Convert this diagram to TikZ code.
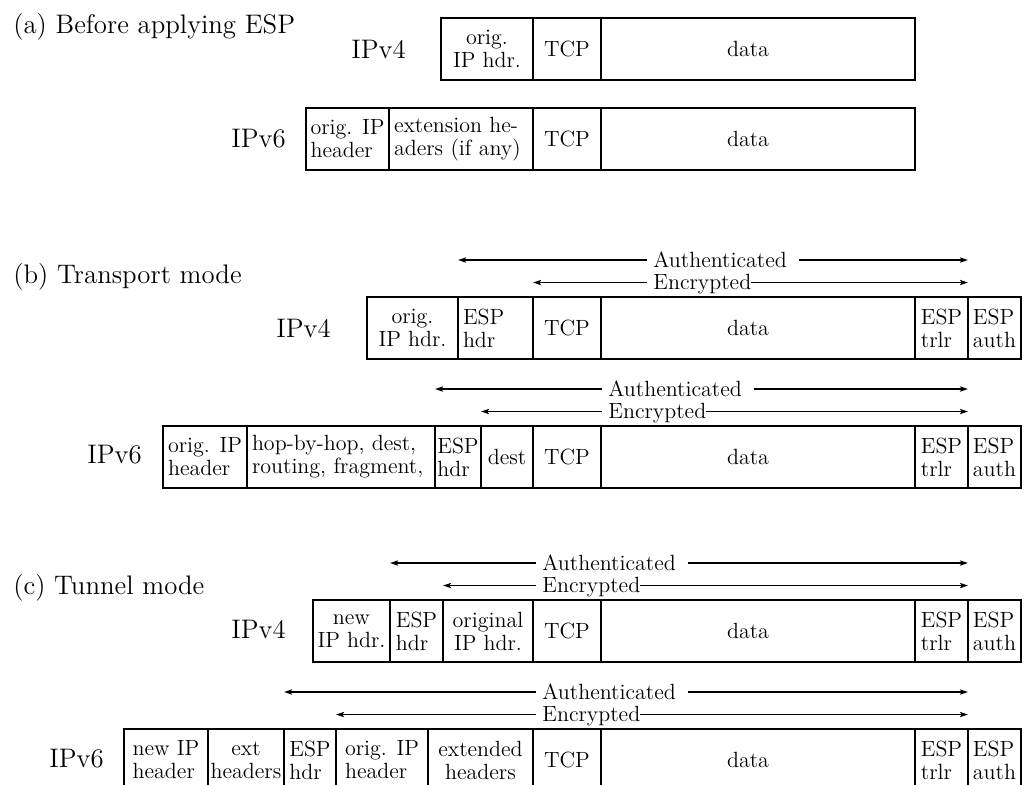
\documentclass[tikz,border=0pt]{standalone}
\usetikzlibrary{arrows.meta}

\tikzset{
  secttitle/.style={anchor=base west, inner sep=0pt, font=\fontsize{13.4}{16}\selectfont},
  protolbl/.style={anchor=base west, inner sep=0pt, font=\fontsize{13.4}{16}\selectfont},
  field/.style={draw, line width=0.9pt, outer sep=0pt, inner sep=1pt,
    minimum height=31pt, align=left, font=\fontsize{11}{11.5}\selectfont},
  la/.style={align=left, text width=\fldtw pt},
  rowframe/.style={line width=1.2pt},
  spanarrow/.style={line width=0.95pt,
    arrows={Stealth[length=4pt,width=2.6pt,inset=0.8pt]-Stealth[length=4pt,width=2.6pt,inset=0.8pt]}},
  spanlbl/.style={anchor=base west, fill=white, inner xsep=0pt, inner ysep=1pt,
    font=\fontsize{11}{11.5}\selectfont},
}

% one field of a packet: [options]{name}{left x}{right x}{text}, centred on \rowy
\newcommand\packetfield[5][]{%
  \pgfmathsetmacro\fldw{(#4-#3)*0.5}%
  \pgfmathsetmacro\fldtw{(#4-#3)*0.5-5}%
  \pgfmathsetmacro\fldx{(#3+#4)/2}%
  \node[field, minimum width=\fldw pt, #1] (#2) at (\fldx,\rowy) {#5};}

\begin{document}
\begin{tikzpicture}[x=0.5pt, y=-0.5pt]
\useasboundingbox (0,0) rectangle (1028,784);
\clip (0,0) rectangle (1028,784);

% ---------------- (a) before ESP ----------------
\node[secttitle] (ta) at (13,33) {(a) Before applying ESP};

\node[protolbl] (a4lbl) at (351,58) {IPv4};
\def\rowy{49}
\packetfield[align=center]{a4ip}{441}{533}{orig.\\IP hdr.}
\packetfield{a4tcp}{533}{601}{TCP}
\packetfield{a4data}{601}{915}{\mbox{data\hspace{10pt}}}
\draw[rowframe] (a4ip.north west) rectangle (a4data.south east);
\draw[rowframe] (a4tcp.north west) -- (a4tcp.south west);

\node[protolbl] (a6lbl) at (231,147) {IPv6};
\def\rowy{139}
\packetfield{a6ip}{306}{389}{orig. IP\\header}
\packetfield[la]{a6ext}{389}{533}{extension he-\\aders (if any)}
\packetfield{a6tcp}{533}{601}{TCP}
\packetfield{a6data}{601}{915}{\mbox{data\hspace{10pt}}}
\draw[rowframe] (a6ip.north west) rectangle (a6data.south east);
\draw[rowframe] (a6tcp.north west) -- (a6tcp.south west);

% ---------------- (b) transport mode ----------------
\node[secttitle] (tb) at (13,283) {(b) Transport mode};

\node[protolbl] (b4lbl) at (276,337) {IPv4};
\def\rowy{328}
\packetfield[align=center]{b4ip}{367}{458}{orig.\\IP hdr.}
\packetfield[la]{b4esp}{458}{533}{ESP\\hdr}
\packetfield{b4tcp}{533}{601}{TCP}
\packetfield{b4data}{601}{915}{\mbox{data\hspace{10pt}}}
\packetfield{b4trlr}{915}{968}{ESP\\trlr}
\packetfield{b4icv}{968}{1021}{ESP\\auth}
\draw[rowframe] (b4ip.north west) rectangle (b4icv.south east);
\draw[rowframe] (b4tcp.north west) -- (b4tcp.south west);

\draw[spanarrow] ([yshift=18.5pt]b4esp.north west) -- ([yshift=18.5pt]b4trlr.north east);
\draw[spanarrow] ([yshift=7.25pt]b4tcp.north west) -- ([yshift=7.25pt]b4trlr.north east);
\node[spanlbl] (b4authlbl) at (647,267) {\hspace{3pt}Authenticated\hspace{6pt}\null};
\node[spanlbl] (b4enclbl) at (647,289.5) {\hspace{3pt}Encrypted};

\node[protolbl] (b6lbl) at (87,463) {IPv6};
\def\rowy{457}
\packetfield{b6ip}{163}{247}{orig. IP\\header}
\packetfield[la]{b6ext}{247}{435}{hop-by-hop, dest,\\routing, fragment,}
\packetfield{b6esp}{435}{481}{ESP\\hdr}
\packetfield[align=center]{b6dest}{481}{533}{dest}
\packetfield{b6tcp}{533}{601}{TCP}
\packetfield{b6data}{601}{915}{\mbox{data\hspace{10pt}}}
\packetfield{b6trlr}{915}{968}{ESP\\trlr}
\packetfield{b6icv}{968}{1021}{ESP\\auth}
\draw[rowframe] (b6ip.north west) rectangle (b6icv.south east);
\draw[rowframe] (b6tcp.north west) -- (b6tcp.south west);

\draw[spanarrow] ([yshift=18.5pt]b6esp.north west) -- ([yshift=18.5pt]b6trlr.north east);
\draw[spanarrow] ([yshift=7.25pt]b6dest.north west) -- ([yshift=7.25pt]b6trlr.north east);
\node[spanlbl] (b6authlbl) at (602,396) {\hspace{3pt}Authenticated\hspace{6pt}\null};
\node[spanlbl] (b6enclbl) at (602,418.5) {\hspace{3pt}Encrypted};

% ---------------- (c) tunnel mode ----------------
\node[secttitle] (tc) at (13,594) {(c) Tunnel mode};

\node[protolbl] (c4lbl) at (231,638) {IPv4};
\def\rowy{631}
\packetfield[align=center]{c4new}{313}{390}{new\\IP hdr.}
\packetfield{c4esp}{390}{443}{ESP\\hdr}
\packetfield[align=center]{c4orig}{443}{533}{original\\IP hdr.}
\packetfield{c4tcp}{533}{601}{TCP}
\packetfield{c4data}{601}{915}{\mbox{data\hspace{10pt}}}
\packetfield{c4trlr}{915}{968}{ESP\\trlr}
\packetfield{c4icv}{968}{1021}{ESP\\auth}
\draw[rowframe] (c4new.north west) rectangle (c4icv.south east);
\draw[rowframe] (c4tcp.north west) -- (c4tcp.south west);

\draw[spanarrow] ([yshift=18.5pt]c4esp.north west) -- ([yshift=18.5pt]c4trlr.north east);
\draw[spanarrow] ([yshift=7.25pt]c4orig.north west) -- ([yshift=7.25pt]c4trlr.north east);
\node[spanlbl] (c4authlbl) at (536,570) {\hspace{3pt}Authenticated\hspace{6pt}\null};
\node[spanlbl] (c4enclbl) at (536,592.5) {\hspace{3pt}Encrypted};

\node[protolbl] (c6lbl) at (49,767) {IPv6};
\def\rowy{760}
\packetfield{c6new}{124}{208}{new IP\\header}
\packetfield[align=center]{c6ext}{208}{284}{ext\\headers}
\packetfield{c6esp}{284}{336}{ESP\\hdr}
\packetfield{c6orig}{336}{428}{orig. IP\\header}
\packetfield[align=center]{c6xh}{428}{533}{extended\\headers}
\packetfield{c6tcp}{533}{601}{TCP}
\packetfield{c6data}{601}{915}{\mbox{data\hspace{10pt}}}
\packetfield{c6trlr}{915}{968}{ESP\\trlr}
\packetfield{c6icv}{968}{1021}{ESP\\auth}
\draw[rowframe] (c6new.north west) rectangle (c6icv.south east);
\draw[rowframe] (c6tcp.north west) -- (c6tcp.south west);

\draw[spanarrow] ([yshift=18.5pt]c6esp.north west) -- ([yshift=18.5pt]c6trlr.north east);
\draw[spanarrow] ([yshift=7.25pt]c6orig.north west) -- ([yshift=7.25pt]c6trlr.north east);
\node[spanlbl] (c6authlbl) at (536,699) {\hspace{3pt}Authenticated\hspace{6pt}\null};
\node[spanlbl] (c6enclbl) at (536,721.5) {\hspace{3pt}Encrypted};
\end{tikzpicture}
\end{document}
